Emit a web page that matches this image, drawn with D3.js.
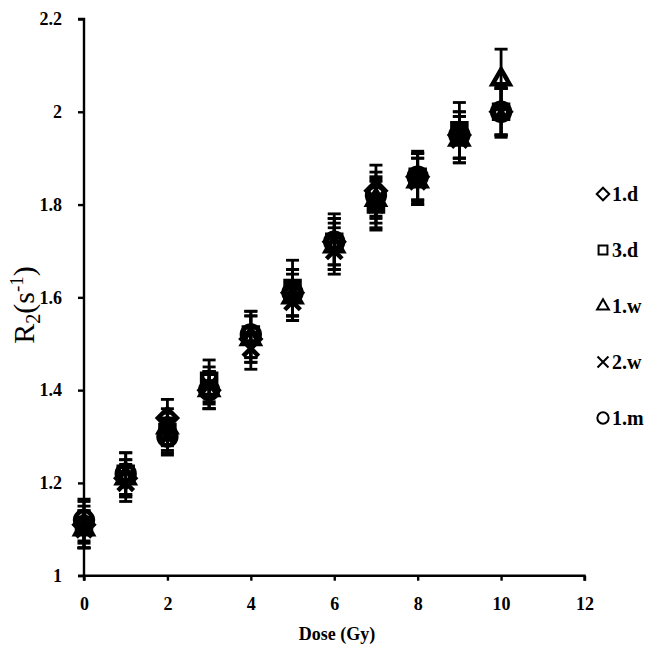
<!DOCTYPE html>
<html><head><meta charset="utf-8">
<script src="https://cdn.jsdelivr.net/npm/d3@7"></script>
<style>body{margin:0;background:#fff}svg{display:block}</style>
</head><body><svg id="c" width="666" height="645"></svg>
<script>
const doses = [0,1,2,3,4,5,6,7,8,9,10];
const seriesNames = ["1.d","3.d","1.w","2.w","1.m"];
const s1d = [1.11,1.21,1.34,1.40,1.51,1.61,1.72,1.83,1.86,1.95,2.00];
const s3d = [1.11,1.22,1.31,1.42,1.52,1.62,1.72,1.80,1.86,1.96,2.00];
const s1w = [1.10,1.21,1.32,1.40,1.51,1.60,1.71,1.81,1.85,1.94,2.07];
const s2w = [1.10,1.20,1.30,1.41,1.49,1.59,1.70,1.80,1.85,1.94,2.00];
const s1m = [1.12,1.22,1.30,1.40,1.52,1.61,1.72,1.82,1.86,1.95,2.00];
const e1d = [0.04,0.04,0.04,0.04,0.05,0.05,0.05,0.055,0.05,0.05,0.05];
const e3d = [0.05,0.045,0.04,0.045,0.05,0.06,0.06,0.05,0.055,0.06,0.055];
const e1w = [0.04,0.04,0.04,0.04,0.05,0.05,0.05,0.05,0.05,0.05,0.065];
const e2w = [0.04,0.04,0.035,0.04,0.045,0.04,0.05,0.055,0.05,0.05,0.05];
const e1m = [0.045,0.045,0.04,0.04,0.05,0.05,0.05,0.05,0.05,0.05,0.05];
const xTicks = [0,2,4,6,8,10,12];
const yTicks = [1,1.2,1.4,1.6,1.8,2,2.2];

const values = [s1d,s3d,s1w,s2w,s1m];
const errors = [e1d,e3d,e1w,e2w,e1m];
const symbols = [d3.symbolDiamond2, d3.symbolSquare2, d3.symbolTriangle2, d3.symbolX, d3.symbolCircle];
const symSizes = [230,250,210,160,250];

const svg = d3.select("#c");
const x = d3.scaleLinear().domain([0,12]).range([84,584.5]);
const y = d3.scaleLinear().domain([1,2.2]).range([575.7,19]);
const serif = "'Liberation Serif','Times New Roman',serif";

// axes
const gx = svg.append("g").attr("transform","translate(0,575.7)")
  .call(d3.axisBottom(x).tickValues(xTicks).tickSize(5).tickPadding(17).tickFormat(d3.format("d")));
const gy = svg.append("g").attr("transform","translate(84,0)")
  .call(d3.axisLeft(y).tickValues(yTicks).tickSize(6).tickPadding(16).tickFormat(d=>d3.format("~g")(d)));
[gx,gy].forEach(g=>{
  g.select(".domain").attr("stroke","#000").attr("stroke-width",2.4);
  g.selectAll(".tick line").attr("stroke","#000").attr("stroke-width",2.4);
  g.selectAll(".tick text").attr("fill","#000").style("font-family",serif)
    .style("font-size","18px").style("font-weight","bold");
});
gx.select(".domain").attr("d",`M${x(0)},5V0H${x(12)}V5`);
gy.select(".domain").attr("d",`M-6,${y(2.2)}H0V${y(1)}H-6`);

// error bars and markers
values.forEach((vals,si)=>{
  const g = svg.append("g");
  vals.forEach((v,i)=>{
    const cx = x(doses[i]);
    const e = errors[si][i];
    g.append("line").attr("x1",cx).attr("x2",cx).attr("y1",y(v-e)).attr("y2",y(v+e))
      .attr("stroke","#000").attr("stroke-width",2.8);
    [v-e,v+e].forEach(t=>g.append("line").attr("x1",cx-6.5).attr("x2",cx+6.5).attr("y1",y(t)).attr("y2",y(t))
      .attr("stroke","#000").attr("stroke-width",2.8));
  });
});
values.forEach((vals,si)=>{
  const sym = d3.symbol().type(symbols[si]).size(symSizes[si]);
  svg.append("g").selectAll("path").data(vals).join("path")
    .attr("transform",(v,i)=>`translate(${x(doses[i])},${y(v)})`)
    .attr("d",sym).attr("fill","none").attr("stroke","#000").attr("stroke-width",4.5);
});

// legend
const legY = d3.scaleLinear().domain([0,4]).range([194,418]);
seriesNames.forEach((n,i)=>{
  const ly = legY(i);
  svg.append("path").attr("transform",`translate(603,${ly})`)
    .attr("d",d3.symbol().type(symbols[i]).size(i===3?80:100)())
    .attr("fill","none").attr("stroke","#000").attr("stroke-width",2);
  svg.append("text").attr("x",612).attr("y",ly+7).text(n)
    .style("font-family",serif).style("font-size","20px").style("font-weight","bold");
});

// axis titles
svg.append("text").attr("x",337).attr("y",640).attr("text-anchor","middle")
  .style("font-family",serif).style("font-size","18px").style("font-weight","bold").text("Dose (Gy)");
const yl = svg.append("text").attr("transform","translate(34,305) rotate(-90)").attr("text-anchor","middle")
  .style("font-family",serif).style("font-size","30px");
yl.append("tspan").text("R");
yl.append("tspan").attr("dy",6).style("font-size","20px").text("2");
yl.append("tspan").attr("dy",-6).text("(s");
yl.append("tspan").attr("dy",-11).style("font-size","19px").text("-1");
yl.append("tspan").attr("dy",11).text(")");
</script></body></html>
